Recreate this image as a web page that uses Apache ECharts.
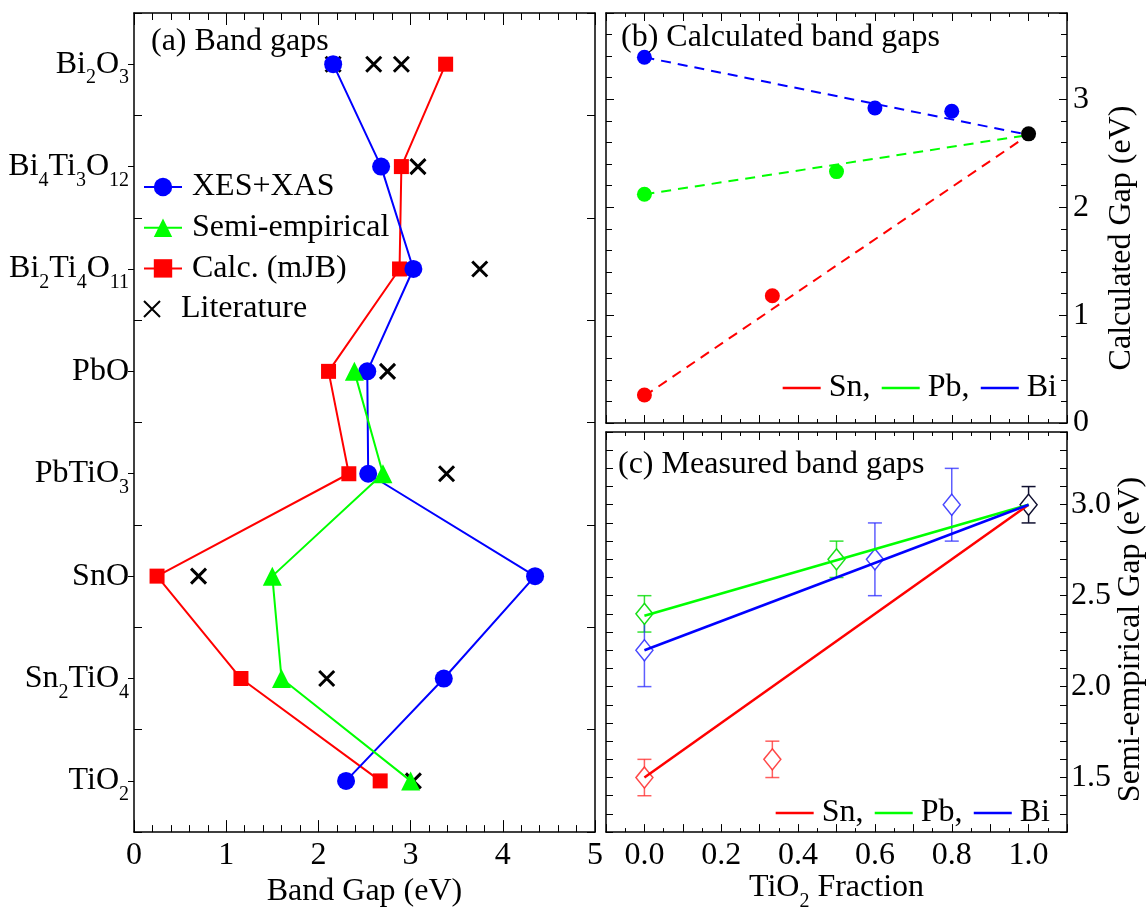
<!DOCTYPE html>
<html><head><meta charset="utf-8">
<script src="https://cdn.jsdelivr.net/npm/echarts@6/dist/echarts.min.js"></script>
<style>html,body{margin:0;padding:0;background:#fff}#c{width:1148px;height:913px}</style>
</head><body><div id="c"></div>
<script>
// ---------- Panel (a): band gaps per compound ----------
const compounds = ['Bi2O3','Bi4Ti3O12','Bi2Ti4O11','PbO','PbTiO3','SnO','Sn2TiO4','TiO2'];
const xesXas  = [2.16, 2.68, 3.03, 2.53, 2.54, 4.35, 3.36, 2.30];
const calcMJB = [3.38, 2.90, 2.88, 2.11, 2.33, 0.25, 1.16, 2.67];
const semiCompounds = ['PbO','PbTiO3','SnO','Sn2TiO4','TiO2'];
const semiEmp = [2.39, 2.70, 1.50, 1.60, 3.00];
const litCompounds = ['Bi2O3','Bi2O3','Bi2O3','Bi4Ti3O12','Bi2Ti4O11','PbO','PbTiO3','SnO','Sn2TiO4','TiO2'];
const literature = [2.16, 2.60, 2.90, 3.08, 3.75, 2.75, 3.39, 0.70, 2.09, 3.03];
const bandTicks = [0, 1, 2, 3, 4, 5];

// ---------- Panel (b): calculated gaps vs TiO2 fraction ----------
const calcSnX = [0, 0.333], calcSnY = [0.26, 1.18];
const calcPbX = [0, 0.5],   calcPbY = [2.12, 2.33];
const calcBiX = [0, 0.6, 0.8], calcBiY = [3.39, 2.92, 2.89];
const calcTiX = [1.0], calcTiY = [2.68];
const trendX = [0, 1];
const trendSnB = [0.25, 2.67], trendPbB = [2.12, 2.67], trendBiB = [3.39, 2.67];

// ---------- Panel (c): measured (semi-empirical) gaps ----------
const measSnX = [0, 0.333], measSnY = [1.5, 1.6], measSnLo = [1.4, 1.5], measSnHi = [1.6, 1.7];
const measPbX = [0, 0.5],   measPbY = [2.4, 2.7], measPbLo = [2.3, 2.6], measPbHi = [2.5, 2.8];
const measBiX = [0, 0.6, 0.8], measBiY = [2.2, 2.7, 3.0], measBiLo = [2.0, 2.5, 2.8], measBiHi = [2.4, 2.9, 3.2];
const measTiX = [1.0], measTiY = [3.0], measTiLo = [2.9], measTiHi = [3.1];
const fitSnC = [1.5, 3.0], fitPbC = [2.39, 3.0], fitBiC = [2.2, 3.0];

const FONT = "'Liberation Serif','Times New Roman',serif";
const FS = 32;
const RED = '#ff0000', GREEN = '#00ff00', BLUE = '#0000ff';

function chem(s){ return s.replace(/([^\d]+)|(\d+)/g, (m,a,d)=> a ? '{n|'+a+'}' : '{s|'+d+'}'); }
const richChem = {
  n:{fontSize:FS, fontFamily:FONT, color:'#000', lineHeight:48},
  s:{fontSize:20, fontFamily:FONT, color:'#000', verticalAlign:'bottom', lineHeight:20}
};
const txt = {fontSize:FS, fontFamily:FONT, color:'#000'};
const frame = {show:true, onZero:false, lineStyle:{color:'#000', width:1.5}};
const pairs = (xs, ys) => xs.map((x,i)=>[x, ys[i]]);

function valAxis(o){
  return Object.assign({type:'value', splitLine:{show:false}, axisLine:frame,
    axisTick:{show:true, inside:true, length:8, lineStyle:{color:'#000', width:1}},
    axisLabel:{show:false}}, o);
}

function errSeries(xs, lo, hi, color){
  return {type:'custom', coordinateSystem:'cartesian2d', xAxisIndex:4, yAxisIndex:5, z:3, silent:true,
    data: xs.map((x,i)=>[x, lo[i], hi[i]]), encode:{x:0, y:[1,2]},
    renderItem: function(params, api){
      const x = api.value(0);
      const p1 = api.coord([x, api.value(1)]), p2 = api.coord([x, api.value(2)]);
      const w = 7, st = {stroke:color, lineWidth:1.5};
      return {type:'group', children:[
        {type:'line', shape:{x1:p1[0], y1:p1[1], x2:p2[0], y2:p2[1]}, style:st},
        {type:'line', shape:{x1:p1[0]-w, y1:p1[1], x2:p1[0]+w, y2:p1[1]}, style:st},
        {type:'line', shape:{x1:p2[0]-w, y1:p2[1], x2:p2[0]+w, y2:p2[1]}, style:st}
      ]};
    }};
}
function diamonds(xs, ys, color){
  return {type:'scatter', name:'m'+color, xAxisIndex:4, yAxisIndex:5, z:4, data:pairs(xs, ys),
    symbol:'diamond', symbolSize:[17,21],
    itemStyle:{color:'#fff', borderColor:color, borderWidth:1.5, opacity:1}};
}

const X_PATH = 'path://M0,0L10,10M0,10L10,0';
const fracFmt = v => { const r = Math.round(v*10); return (r % 2 === 0 && r >= 0) ? (r/10).toFixed(1) : ''; };
const legTxt = (p) => Object.assign({padding:p}, txt);

const option = {
  animation:false,
  backgroundColor:'#fff',
  title:[
    {text:'(a) Band gaps', left:151, top:26, padding:0, textStyle:Object.assign({fontWeight:'normal'}, txt)},
    {text:'(b) Calculated band gaps', left:621, top:22, padding:0, textStyle:Object.assign({fontWeight:'normal'}, txt)},
    {text:'(c) Measured band gaps', left:618, top:449, padding:0, textStyle:Object.assign({fontWeight:'normal'}, txt)}
  ],
  grid:[
    {left:134, top:13, width:461, height:829},
    {left:606, top:13, width:461, height:410},
    {left:606, top:432, width:461, height:410}
  ],
  legend:[
    {orient:'vertical', left:143, top:171, itemWidth:38, itemHeight:23, itemGap:8.7, padding:0,
     data:['XES+XAS','Semi-empirical','Calc. (mJB)'], textStyle:legTxt([0,0,0,5])},
    {orient:'vertical', left:143, top:293, itemWidth:38, itemHeight:16, padding:0,
     data:['Literature'], textStyle:legTxt([0,0,0,5])},
    {orient:'horizontal', right:91, top:372, itemWidth:38, itemHeight:14, itemGap:10, padding:0,
     data:['Sn,','Pb,','Bi'], itemStyle:{opacity:0}, lineStyle:{type:'solid', width:2.5, opacity:1},
     textStyle:legTxt([0,0,0,3])},
    {orient:'horizontal', right:98, top:797, itemWidth:38, itemHeight:14, itemGap:10, padding:0,
     data:['Sn,','Pb,','Bi'], itemStyle:{opacity:0}, lineStyle:{type:'solid', width:2.5, opacity:1},
     textStyle:legTxt([0,0,0,3])}
  ],
  xAxis:[
    valAxis({gridIndex:0, position:'bottom', min:bandTicks[0], max:bandTicks[bandTicks.length-1], interval:1,
      axisTick:{show:true, inside:true, length:12, lineStyle:{color:'#000'}},
      minorTick:{show:true, splitNumber:5, length:7, lineStyle:{color:'#000'}},
      axisLabel:Object.assign({show:true, margin:7}, txt),
      name:'Band Gap (eV)', nameLocation:'middle', nameGap:37, nameTextStyle:txt}),
    valAxis({gridIndex:0, position:'top', min:0, max:5, interval:1,
      axisTick:{show:true, inside:true, length:12, lineStyle:{color:'#000'}},
      minorTick:{show:true, splitNumber:5, length:7, lineStyle:{color:'#000'}}}),
    valAxis({gridIndex:1, position:'bottom', min:-0.1, max:1.1, interval:0.1,
      minorTick:{show:true, splitNumber:2, length:4, lineStyle:{color:'#000'}}}),
    valAxis({gridIndex:1, position:'top', min:-0.1, max:1.1, interval:0.1,
      minorTick:{show:true, splitNumber:2, length:4, lineStyle:{color:'#000'}}}),
    valAxis({gridIndex:2, position:'bottom', min:-0.1, max:1.1, interval:0.1,
      minorTick:{show:true, splitNumber:2, length:4, lineStyle:{color:'#000'}},
      axisLabel:Object.assign({show:true, margin:7, formatter:fracFmt}, txt),
      name:'{n|TiO}{s|2}{n| Fraction}', nameLocation:'middle', nameGap:24,
      nameTextStyle:Object.assign({rich:richChem}, txt)}),
    valAxis({gridIndex:2, position:'top', min:-0.1, max:1.1, interval:0.1,
      minorTick:{show:true, splitNumber:2, length:4, lineStyle:{color:'#000'}}})
  ],
  yAxis:[
    {type:'category', gridIndex:0, position:'left', inverse:true, data:compounds, boundaryGap:true,
      axisLine:frame, axisTick:{show:true, inside:true, length:8, alignWithLabel:false, lineStyle:{color:'#000'}},
      splitLine:{show:false},
      axisLabel:{show:true, margin:5, formatter:v=>chem(v), rich:richChem, fontSize:FS, fontFamily:FONT, color:'#000'}},
    {type:'category', gridIndex:0, position:'right', inverse:true, data:compounds, boundaryGap:true,
      axisLine:frame, axisTick:{show:true, inside:true, length:8, alignWithLabel:false, lineStyle:{color:'#000'}},
      axisLabel:{show:false}, splitLine:{show:false}},
    {type:'category', gridIndex:0, position:'right', inverse:true, data:compounds, boundaryGap:true,
      axisLine:{show:false}, axisTick:{show:true, inside:true, length:6, alignWithLabel:true, lineStyle:{color:'#000'}},
      axisLabel:{show:false}, splitLine:{show:false}},
    valAxis({gridIndex:1, position:'right', min:0, max:3.8, interval:1,
      minorTick:{show:true, splitNumber:5, length:6, lineStyle:{color:'#000'}},
      axisLabel:Object.assign({show:true, margin:6,
        formatter:v=> Math.abs(v-Math.round(v))<1e-6 ? String(Math.round(v)) : ''}, txt),
      name:'Calculated Gap (eV)', nameLocation:'middle', nameRotate:90, nameGap:39,
      nameTextStyle:Object.assign({padding:[0,40,0,0]}, txt)}),
    valAxis({gridIndex:1, position:'left', min:0, max:3.8, interval:1,
      minorTick:{show:true, splitNumber:5, length:6, lineStyle:{color:'#000'}}}),
    valAxis({gridIndex:2, position:'right', min:1.2, max:3.4, interval:0.1,
      axisTick:{show:true, inside:true, length:7, lineStyle:{color:'#000'}},
      axisLabel:Object.assign({show:true, margin:4,
        formatter:v=>{const r=Math.round(v*10); return r%5===0 ? (r/10).toFixed(1) : '';}}, txt),
      name:'Semi-empirical Gap (eV)', nameLocation:'middle', nameRotate:90, nameGap:47,
      nameTextStyle:Object.assign({padding:[0,15,0,0]}, txt)}),
    valAxis({gridIndex:2, position:'left', min:1.2, max:3.4, interval:0.1,
      axisTick:{show:true, inside:true, length:7, lineStyle:{color:'#000'}}})
  ],
  series:[
    // panel (a)
    {type:'line', name:'Calc. (mJB)', xAxisIndex:0, yAxisIndex:0, data:compounds.map((c,i)=>[calcMJB[i], c]),
      symbol:'rect', symbolSize:15, itemStyle:{color:RED}, lineStyle:{color:RED, width:2}},
    {type:'line', name:'XES+XAS', xAxisIndex:0, yAxisIndex:0, data:compounds.map((c,i)=>[xesXas[i], c]),
      symbol:'circle', symbolSize:18, itemStyle:{color:BLUE}, lineStyle:{color:BLUE, width:2}},
    {type:'line', name:'Semi-empirical', xAxisIndex:0, yAxisIndex:0, data:semiCompounds.map((c,i)=>[semiEmp[i], c]),
      symbol:'triangle', symbolSize:19, itemStyle:{color:GREEN}, lineStyle:{color:GREEN, width:2}},
    {type:'scatter', name:'Literature', xAxisIndex:0, yAxisIndex:0, data:litCompounds.map((c,i)=>[literature[i], c]),
      symbol:X_PATH, symbolSize:15, itemStyle:{color:'rgba(0,0,0,0)', borderColor:'#000', borderWidth:3, opacity:1}},
    // panel (b)
    {type:'line', name:'Sn,', xAxisIndex:2, yAxisIndex:3, data:pairs(trendX, trendSnB), symbol:'none',
      lineStyle:{color:RED, width:2, type:[10,7]}, itemStyle:{color:RED}},
    {type:'line', name:'Pb,', xAxisIndex:2, yAxisIndex:3, data:pairs(trendX, trendPbB), symbol:'none',
      lineStyle:{color:GREEN, width:2, type:[10,7]}, itemStyle:{color:GREEN}},
    {type:'line', name:'Bi', xAxisIndex:2, yAxisIndex:3, data:pairs(trendX, trendBiB), symbol:'none',
      lineStyle:{color:BLUE, width:2, type:[10,7]}, itemStyle:{color:BLUE}},
    {type:'scatter', name:'bSn', xAxisIndex:2, yAxisIndex:3, data:pairs(calcSnX, calcSnY), symbolSize:15, itemStyle:{color:RED, opacity:1}},
    {type:'scatter', name:'bPb', xAxisIndex:2, yAxisIndex:3, data:pairs(calcPbX, calcPbY), symbolSize:15, itemStyle:{color:GREEN, opacity:1}},
    {type:'scatter', name:'bBi', xAxisIndex:2, yAxisIndex:3, data:pairs(calcBiX, calcBiY), symbolSize:15, itemStyle:{color:BLUE, opacity:1}},
    {type:'scatter', name:'bTi', xAxisIndex:2, yAxisIndex:3, data:pairs(calcTiX, calcTiY), symbolSize:15, itemStyle:{color:'#000', opacity:1}, z:5},
    // panel (c)
    errSeries(measSnX, measSnLo, measSnHi, 'rgba(255,40,40,0.75)'),
    errSeries(measPbX, measPbLo, measPbHi, 'rgba(0,220,0,0.8)'),
    errSeries(measBiX, measBiLo, measBiHi, 'rgba(40,40,255,0.75)'),
    errSeries(measTiX, measTiLo, measTiHi, '#101030'),
    diamonds(measSnX, measSnY, 'rgba(255,40,40,0.85)'),
    diamonds(measPbX, measPbY, 'rgba(0,220,0,0.9)'),
    diamonds(measBiX, measBiY, 'rgba(40,40,255,0.85)'),
    diamonds(measTiX, measTiY, '#101030'),
    {type:'line', name:'Sn,', xAxisIndex:4, yAxisIndex:5, data:pairs(trendX, fitSnC), symbol:'none', z:5,
      lineStyle:{color:RED, width:2.5}, itemStyle:{color:RED}},
    {type:'line', name:'Pb,', xAxisIndex:4, yAxisIndex:5, data:pairs(trendX, fitPbC), symbol:'none', z:5,
      lineStyle:{color:GREEN, width:2.5}, itemStyle:{color:GREEN}},
    {type:'line', name:'Bi', xAxisIndex:4, yAxisIndex:5, data:pairs(trendX, fitBiC), symbol:'none', z:5,
      lineStyle:{color:BLUE, width:2.5}, itemStyle:{color:BLUE}}
  ]
};
const chart = echarts.init(document.getElementById('c'), null, {renderer:'canvas'});
chart.setOption(option);
</script>
</body></html>
